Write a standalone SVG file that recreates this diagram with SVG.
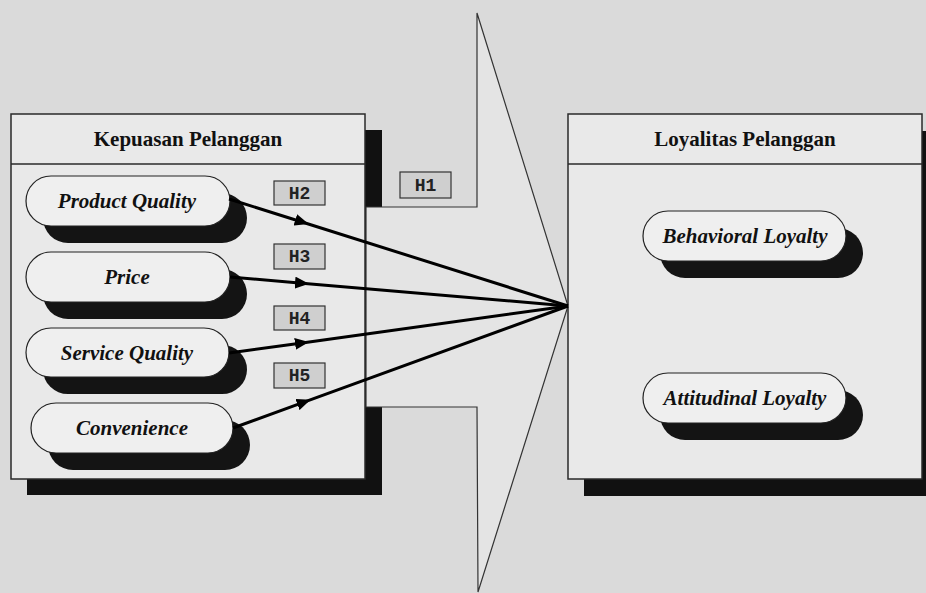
<svg xmlns="http://www.w3.org/2000/svg" width="926" height="593" viewBox="0 0 926 593">
<style>
.shadow{fill:#111}
.box{fill:#e9e9e9;stroke:#2a2a2a;stroke-width:1.5}
.hdrline{stroke:#2a2a2a;stroke-width:1.5}
.pill{fill:#efefef;stroke:#222;stroke-width:1.2}
.pshadow{fill:#141414}
.title{font-family:"Liberation Serif","Times New Roman",serif;font-weight:bold;font-size:21px;fill:#111;text-anchor:middle}
.ptext{font-family:"Liberation Serif","Times New Roman",serif;font-weight:bold;font-style:italic;font-size:21px;fill:#111;text-anchor:middle}
.hbox{fill:#cfcfcf;stroke:#333;stroke-width:1.2}
.htext{font-family:"Liberation Mono","Courier New",monospace;font-weight:bold;font-size:18px;fill:#222;text-anchor:middle}
.conn{fill:none;stroke:#000;stroke-width:3;marker-mid:url(#ah)}
</style>
<defs>
<marker id="ah" markerUnits="userSpaceOnUse" markerWidth="16" markerHeight="12" refX="7" refY="6" orient="auto">
<path d="M0,0 L14,6 L0,12 z" fill="#000"/>
</marker>
</defs>
<rect x="0" y="0" width="926" height="593" fill="#dadada"/>

<g id="kepuasan">
<rect class="shadow" x="27" y="130" width="355" height="365"/>
<rect class="box" x="11" y="114" width="354" height="365"/>
<line class="hdrline" x1="11" y1="164" x2="365" y2="164"/>
<text class="title" x="188" y="146">Kepuasan Pelanggan</text>
</g>

<g id="product-quality">
<rect class="pshadow" x="43" y="193" width="204" height="50" rx="25"/>
<rect class="pill" x="26" y="176" width="204" height="50" rx="25"/>
<text class="ptext" x="127" y="208">Product Quality</text>
</g>
<g id="price">
<rect class="pshadow" x="43" y="269" width="204" height="50" rx="25"/>
<rect class="pill" x="26" y="252" width="204" height="50" rx="25"/>
<text class="ptext" x="127" y="284">Price</text>
</g>
<g id="service-quality">
<rect class="pshadow" x="43" y="345" width="204" height="49" rx="25"/>
<rect class="pill" x="26" y="328" width="203" height="49" rx="25"/>
<text class="ptext" x="127" y="360">Service Quality</text>
</g>
<g id="convenience">
<rect class="pshadow" x="48" y="420" width="202" height="50" rx="25"/>
<rect class="pill" x="31" y="403" width="202" height="50" rx="25"/>
<text class="ptext" x="132" y="435">Convenience</text>
</g>

<g id="h1-arrow">
<polygon points="366,207 477,207 477,13 568,306 478,592 477,407 366,407" fill="#e4e4e4" stroke="#333" stroke-width="1.2"/>
</g>

<g id="loyalitas">
<rect class="shadow" x="584" y="131" width="342" height="365"/>
<rect class="box" x="568" y="114" width="354" height="365"/>
<line class="hdrline" x1="568" y1="164" x2="922" y2="164"/>
<text class="title" x="745" y="146">Loyalitas Pelanggan</text>
</g>
<g id="behavioral-loyalty">
<rect class="pshadow" x="660" y="228" width="203" height="50" rx="25"/>
<rect class="pill" x="643" y="211" width="203" height="50" rx="25"/>
<text class="ptext" x="745" y="243">Behavioral Loyalty</text>
</g>
<g id="attitudinal-loyalty">
<rect class="pshadow" x="660" y="390" width="203" height="50" rx="25"/>
<rect class="pill" x="643" y="373" width="203" height="50" rx="25"/>
<text class="ptext" x="745" y="405">Attitudinal Loyalty</text>
</g>

<g id="labels">
<g id="h1"><rect class="hbox" x="400" y="172" width="51" height="26"/><text class="htext" x="425.5" y="191">H1</text></g>
<g id="h2"><rect class="hbox" x="274" y="181" width="51" height="24"/><text class="htext" x="299.5" y="199">H2</text></g>
<g id="h3"><rect class="hbox" x="274" y="244" width="51" height="25"/><text class="htext" x="299.5" y="262">H3</text></g>
<g id="h4"><rect class="hbox" x="274" y="306" width="51" height="24"/><text class="htext" x="299.5" y="324">H4</text></g>
<g id="h5"><rect class="hbox" x="274" y="363" width="51" height="25"/><text class="htext" x="299.5" y="381">H5</text></g>
</g>

<g id="connectors">
<polyline class="conn" points="229,199 302,222 568,306"/>
<polyline class="conn" points="230,277 302,283.2 568,306"/>
<polyline class="conn" points="229,353 302,342.9 568,306"/>
<polyline class="conn" points="233,428 304,402.1 568,306"/>
</g>
</svg>
